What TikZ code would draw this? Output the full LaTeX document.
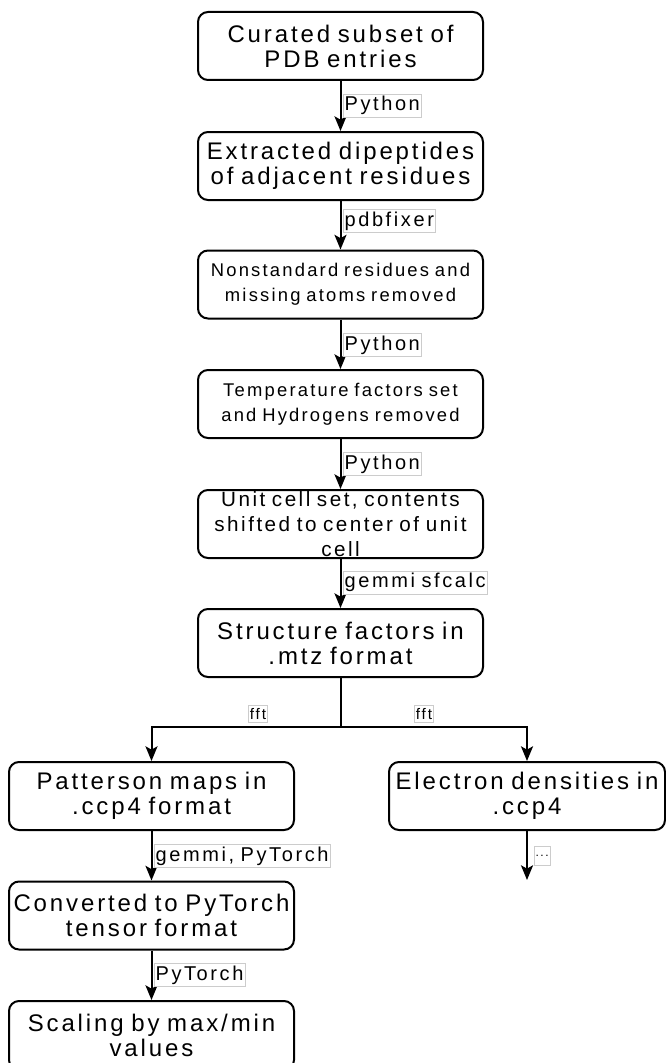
\documentclass[tikz,border=0pt]{standalone}
\usepackage{fontspec}
\usetikzlibrary{arrows.meta}
\newfontfamily\bx{Liberation Sans}[LetterSpace=12,WordSpace=0.8]
\newfontfamily\lb{Liberation Sans}[LetterSpace=13,WordSpace=0.8]
\definecolor{lblgray}{HTML}{CCCCCC}
\tikzset{
  x=0.75pt, y=-0.75pt,
  box/.style={draw=black, line width=1.5pt, rounded corners=7.5pt, fill=white,
    minimum width=213.75pt, minimum height=51pt, align=center, inner sep=0pt,
    font=\bx\fontsize{18}{18.75}\selectfont},
  smallbox/.style={box, font=\bx\fontsize{13.8}{18.75}\selectfont},
  midbox/.style={box, font=\bx\fontsize{15.5}{18.75}\selectfont},
  arr/.style={line width=1.5pt, -{Stealth[length=11pt,width=9pt,inset=2.5pt]}},
  conn/.style={line width=1.5pt},
  lbl/.style={draw=lblgray, line width=0.4pt, fill=white, inner xsep=1pt, inner ysep=1pt,
    minimum height=17pt, font=\lb\fontsize{15}{15}\selectfont},
  lbls/.style={lbl, minimum height=13pt, font=\lb\fontsize{11.5}{12}\selectfont},
  lbldot/.style={lbl, minimum height=14pt, font=\lb\fontsize{9}{10}\selectfont},
}
\begin{document}
\begin{tikzpicture}
\useasboundingbox (0,0) rectangle (666,1063);
\node[box] (b1) at (340.5,46) {Curated subset of\\PDB entries};
\node[box] (b2) at (340.5,166) {Extracted dipeptides\\of adjacent residues};
\node[smallbox] (b3) at (340.5,284.5) {Nonstandard residues and\\missing atoms removed};
\node[smallbox] (b4) at (340.5,404) {Temperature factors set\\and Hydrogens removed};
\node[midbox] (b5) at (340.5,524) {Unit cell set, contents\\shifted to center of unit\\cell};
\node[box] (b6) at (340.5,643) {Structure factors in\\.mtz format};
\node[box] (pat) at (151.5,796) {Patterson maps in\\.ccp4 format};
\node[box, minimum width=207pt] (ele) at (527,796) {Electron densities in\\.ccp4};
\node[box] (conv) at (151.5,915.5) {Converted to PyTorch\\tensor format};
\node[box, minimum height=51.75pt] (scal) at (151.5,1035.5) {Scaling by max/min\\values};
\coordinate (j) at (340.5,727);
\coordinate (eend) at (527,880);

\draw[arr] (b1) -- (b2);
\draw[arr] (b2) -- (b3);
\draw[arr] (b3) -- (b4);
\draw[arr] (b4) -- (b5);
\draw[arr] (b5) -- (b6);
\draw[conn] (b6) -- (j);
\draw[arr] (j) -| (pat);
\draw[arr] (j) -| (ele);
\draw[arr] (pat) -- (conv);
\draw[arr] (conv) -- (scal);
\draw[arr] (ele) -- (eend);

\node[lbl, anchor=west] (l1) at (343,105.5) {Python};
\node[lbl, anchor=west] (l2) at (343,221) {pdbfixer};
\node[lbl, anchor=west] (l3) at (343,345) {Python};
\node[lbl, anchor=west] (l4) at (343,464) {Python};
\node[lbl, anchor=west] (l5) at (343,582.5) {gemmi sfcalc};
\node[lbls] (l6) at (258,714) {fft};
\node[lbls] (l7) at (424,714) {fft};
\node[lbl, anchor=west] (l8) at (154,856) {gemmi, PyTorch};
\node[lbl, anchor=west] (l9) at (154,975) {PyTorch};
\node[lbldot, anchor=west] (l10) at (534,856) {...};
\end{tikzpicture}
\end{document}
